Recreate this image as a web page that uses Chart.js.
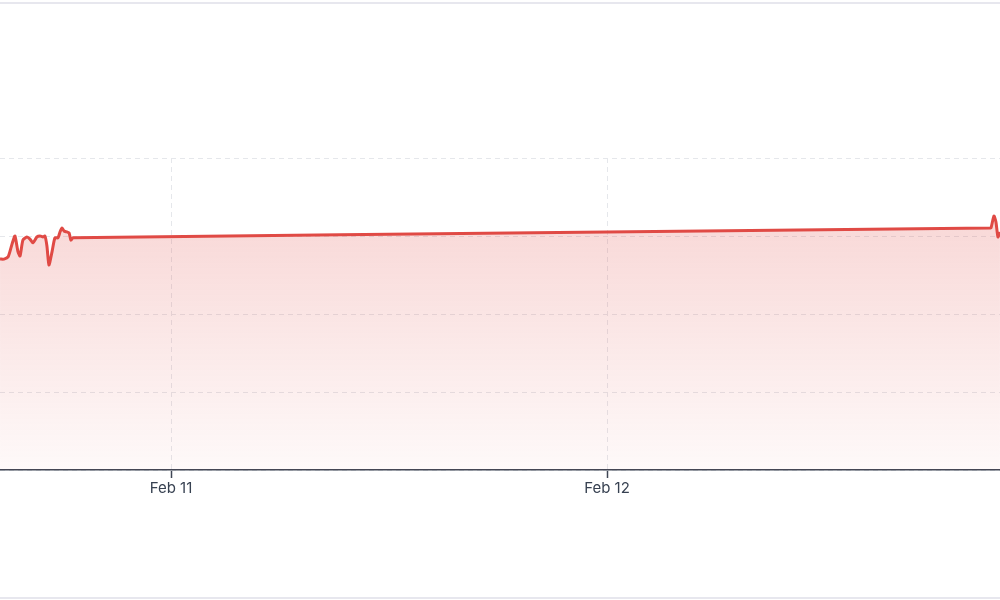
<!DOCTYPE html>
<html>
<head>
<meta charset="utf-8">
<script src="https://cdn.jsdelivr.net/npm/chart.js@4"></script>
<style>
  html, body { margin: 0; padding: 0; background: #ffffff; }
  #wrap { position: relative; width: 1000px; height: 600px; overflow: hidden; }
  #topLine { position: absolute; left: 0; top: 2px; width: 1000px; height: 2px; background: #e7e7ee; }
  #botLine { position: absolute; left: 0; top: 597px; width: 1000px; height: 2px; background: #e7e7ee; }
  canvas { position: absolute; left: 0; top: 0; }
</style>
</head>
<body>
<div id="wrap">
  <canvas id="c" width="1000" height="600"></canvas>
  <div id="topLine"></div>
  <div id="botLine"></div>
</div>
<script>
// Hours since Feb 10 00:00
const hours = [14.59, 14.81, 15.03, 15.19, 15.30, 15.41, 15.58, 15.69, 15.85, 16.07,
  16.24, 16.40, 16.62, 16.79, 16.95, 17.06, 17.17, 17.28, 17.45, 17.61,
  17.78, 17.89, 18.00, 18.11, 18.27, 18.39, 18.49, 18.61, 48.00, 69.08,
  69.14, 69.30, 69.41, 69.52, 69.63];
const values = [67.6, 67.6, 68.3, 71.2, 73.4, 75.0, 69.9, 68.6, 73.7, 74.7,
  74.0, 72.8, 74.7, 75.0, 74.7, 75.0, 71.8, 65.7, 69.9, 74.4,
  74.4, 76.3, 77.6, 76.6, 76.3, 76.0, 73.7, 74.4, 76.3, 77.6,
  77.6, 81.4, 79.5, 74.7, 76.3];
const tickHours = [24, 48];
const tickLabels = ['Feb 11', 'Feb 12'];
const xMin = 14.587, xMax = 69.633;
const yMin = 0, yMax = 100, yStep = 25;

const points = hours.map((h, i) => ({ x: h, y: values[i] }));

new Chart(document.getElementById('c'), {
  type: 'line',
  data: {
    datasets: [{
      data: points,
      borderColor: '#e04a45',
      borderWidth: 3,
      pointRadius: 0,
      tension: 0.2,
      fill: 'origin',
      backgroundColor: (ctx) => {
        const ca = ctx.chart.chartArea;
        if (!ca) return 'rgba(224,74,69,0.15)';
        const g = ctx.chart.ctx.createLinearGradient(0, ca.top, 0, ca.bottom);
        g.addColorStop(0, 'rgba(224,74,69,0.26)');
        g.addColorStop(1, 'rgba(224,74,69,0.03)');
        return g;
      }
    }]
  },
  options: {
    responsive: false,
    animation: false,
    layout: { padding: { top: 158, left: 0, right: 0, bottom: 0 } },
    plugins: { legend: { display: false }, tooltip: { enabled: false } },
    scales: {
      x: {
        type: 'linear',
        min: xMin,
        max: xMax,
        afterBuildTicks: (scale) => { scale.ticks = tickHours.map(v => ({ value: v })); },
        afterFit: (scale) => { scale.height = 130; },
        ticks: {
          callback: (v) => { const i = tickHours.indexOf(v); return i >= 0 ? tickLabels[i] : ''; },
          color: '#374151',
          font: { family: 'Inter', size: 15 },
          padding: 1,
          maxRotation: 0,
          autoSkip: false
        },
        grid: {
          color: '#e5e7eb',
          lineWidth: 1,
          tickLength: 8,
          tickColor: '#3f4654',
          tickWidth: 1.5,
          drawOnChartArea: true
        },
        border: { display: true, color: '#3f4654', width: 1.5, dash: [5, 4] }
      },
      y: {
        min: yMin,
        max: yMax,
        ticks: { display: false, stepSize: yStep },
        afterFit: (scale) => { scale.width = 0; },
        grid: { color: '#e5e7eb', lineWidth: 1, drawTicks: false },
        border: { display: false, dash: [5, 4] }
      }
    }
  }
});
</script>
</body>
</html>
